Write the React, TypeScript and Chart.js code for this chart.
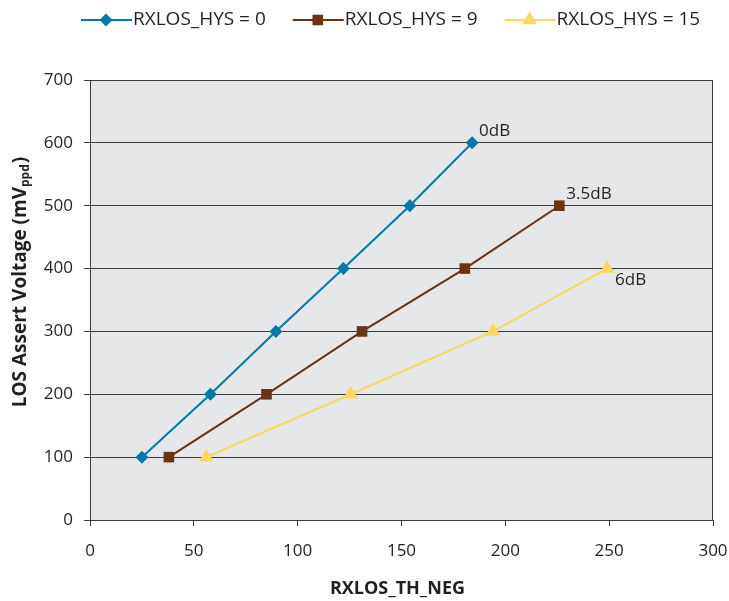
import React, { useEffect, useRef } from 'react';
import { Chart, registerables } from 'chart.js';

Chart.register(...registerables);

// ---- data ----
const seriesNames = ['RXLOS_HYS = 0', 'RXLOS_HYS = 9', 'RXLOS_HYS = 15'];
const hys0X = [25, 58, 89.5, 122, 154, 184];
const hys0Y = [100, 200, 300, 400, 500, 600];
const hys9X = [38, 85, 131, 180.5, 226];
const hys9Y = [100, 200, 300, 400, 500];
const hys15X = [56, 125.5, 194, 249];
const hys15Y = [100, 200, 300, 400];
const endLabels = ['0dB', '3.5dB', '6dB'];
const xTitle = 'RXLOS_TH_NEG';
const yTitleMain = 'LOS Assert Voltage (mV';
const yTitleSub = 'ppd';
const yTitleEnd = ')';

// ---- styles ----
const colors = ['#0079a8', '#6b3316', '#f8d85e'];
const pointStyles = ['rectRot', 'rect', 'triangle'];
const pointRadii = [6.5, 7.5, 8.5];
const labelOffsets = [[7, -12], [7, -12], [8, 12]];
const FONT = '"Open Sans", "Noto Sans", sans-serif';
const TEXT = '#231f20';

function toPoints(xs: number[], ys: number[]) {
  return xs.map((x, i) => ({ x, y: ys[i] }));
}

function drawMarker(ctx: CanvasRenderingContext2D, style: string, x: number, y: number, r: number) {
  ctx.beginPath();
  if (style === 'rectRot') {
    ctx.moveTo(x, y - r);
    ctx.lineTo(x + r, y);
    ctx.lineTo(x, y + r);
    ctx.lineTo(x - r, y);
  } else if (style === 'rect') {
    const s = r * Math.SQRT1_2;
    ctx.rect(x - s, y - s, 2 * s, 2 * s);
  } else {
    ctx.moveTo(x, y - r);
    ctx.lineTo(x + r * 0.866, y + r / 2);
    ctx.lineTo(x - r * 0.866, y + r / 2);
  }
  ctx.closePath();
  ctx.fill();
}

const decorPlugin = {
  id: 'decor',
  beforeDraw(chart: any) {
    const { ctx, chartArea: a } = chart;
    ctx.save();
    ctx.fillStyle = '#e6e7e8';
    ctx.fillRect(a.left, a.top, a.right - a.left, a.bottom - a.top);
    ctx.restore();
  },
  beforeDatasetsDraw(chart: any) {
    const { ctx, chartArea: a } = chart;
    ctx.save();
    ctx.strokeStyle = '#3a3a3a';
    ctx.lineWidth = 1;
    ctx.strokeRect(Math.round(a.left) + 0.5, Math.round(a.top) + 0.5, Math.round(a.right - a.left) - 1, Math.round(a.bottom - a.top));
    ctx.restore();
  },
  afterDatasetsDraw(chart: any) {
    const { ctx, chartArea: a } = chart;
    ctx.save();
    // end labels
    ctx.font = `17px ${FONT}`;
    ctx.fillStyle = TEXT;
    ctx.textAlign = 'left';
    ctx.textBaseline = 'middle';
    chart.data.datasets.forEach((ds: any, i: number) => {
      const meta = chart.getDatasetMeta(i);
      const el = meta.data[meta.data.length - 1];
      ctx.fillText(endLabels[i], el.x + labelOffsets[i][0], el.y + labelOffsets[i][1]);
    });

    // legend
    ctx.font = `19px ${FONT}`;
    let x = 81;
    const ly = 20;
    seriesNames.forEach((name, i) => {
      ctx.strokeStyle = colors[i];
      ctx.lineWidth = 2;
      ctx.beginPath();
      ctx.moveTo(x, ly);
      ctx.lineTo(x + 51, ly);
      ctx.stroke();
      ctx.fillStyle = colors[i];
      drawMarker(ctx, pointStyles[i], x + 25, ly, pointRadii[i]);
      ctx.fillStyle = TEXT;
      ctx.textBaseline = 'middle';
      ctx.fillText(name, x + 52, ly);
      x += 52 + ctx.measureText(name).width + 27;
    });

    // x title
    ctx.font = `bold 18px ${FONT}`;
    ctx.textAlign = 'center';
    ctx.fillText(xTitle, (a.left + a.right) / 2 - 4, 589);

    // y title with subscript
    ctx.translate(19, 282);
    ctx.rotate(-Math.PI / 2);
    ctx.textAlign = 'left';
    ctx.textBaseline = 'alphabetic';
    ctx.font = `bold 19px ${FONT}`;
    const w1 = ctx.measureText(yTitleMain).width;
    const w3 = ctx.measureText(yTitleEnd).width;
    ctx.font = `bold 12px ${FONT}`;
    const w2 = ctx.measureText(yTitleSub).width;
    let tx = -(w1 + w2 + w3 + 1) / 2;
    ctx.font = `bold 19px ${FONT}`;
    ctx.fillText(yTitleMain, tx, 7);
    tx += w1;
    ctx.font = `bold 12px ${FONT}`;
    ctx.fillText(yTitleSub, tx, 10);
    tx += w2 + 1;
    ctx.font = `bold 19px ${FONT}`;
    ctx.fillText(yTitleEnd, tx, 7);
    ctx.restore();
  },
};

export default function App() {
  const ref = useRef<HTMLCanvasElement>(null);
  useEffect(() => {
    document.body.style.margin = '0';
    const xsList = [hys0X, hys9X, hys15X];
    const ysList = [hys0Y, hys9Y, hys15Y];
    const chart = new Chart(ref.current!, {
      type: 'line',
      data: {
        datasets: seriesNames.map((name, i) => ({
          label: name,
          data: toPoints(xsList[i], ysList[i]),
          borderColor: colors[i],
          backgroundColor: colors[i],
          borderWidth: 2,
          pointStyle: pointStyles[i] as any,
          pointRadius: pointRadii[i],
          pointBorderWidth: 0,
          pointBackgroundColor: colors[i],
          tension: 0,
        })),
      },
      options: {
        animation: false,
        responsive: false,
        devicePixelRatio: 1,
        layout: { padding: { top: 80, right: 16, bottom: 0, left: 0 } },
        plugins: { legend: { display: false }, tooltip: { enabled: false } },
        scales: {
          x: {
            type: 'linear',
            min: 0,
            max: 300,
            ticks: { stepSize: 50, color: TEXT, font: { family: FONT, size: 17 }, padding: 15, maxRotation: 0 },
            grid: { drawOnChartArea: false, drawTicks: true, tickLength: 6, color: '#3a3a3a' },
            border: { display: true, color: '#3a3a3a', width: 1 },
            afterFit: (s: any) => { s.height = 81; s.paddingRight = 0; s.paddingLeft = 0; },
          },
          y: {
            type: 'linear',
            min: 0,
            max: 700,
            ticks: { stepSize: 100, color: TEXT, font: { family: FONT, size: 17 }, padding: 11 },
            grid: { color: '#3a3a3a', drawTicks: true, tickLength: 6, lineWidth: 1 },
            border: { display: true, color: '#3a3a3a', width: 1 },
            afterFit: (s: any) => { s.width = 90; s.paddingTop = 0; s.paddingBottom = 0; },
          },
        },
      },
      plugins: [decorPlugin],
    });
    return () => chart.destroy();
  }, []);
  return (
    <div style={{ width: 729, height: 601 }}>
      <canvas ref={ref} width={729} height={601} />
    </div>
  );
}
